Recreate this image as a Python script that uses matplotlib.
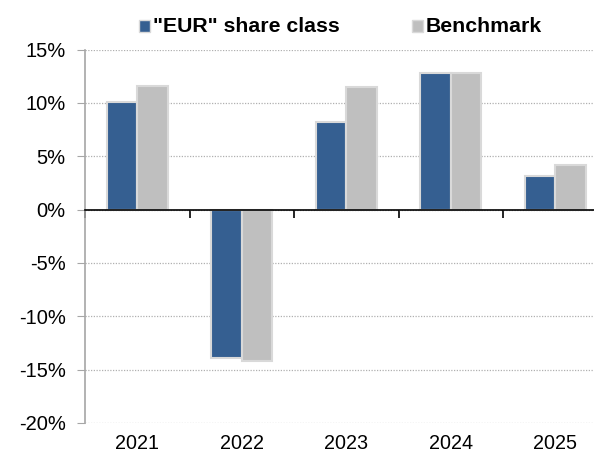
import matplotlib
matplotlib.use("Agg")
import matplotlib.pyplot as plt
import numpy as np
from matplotlib.patches import Rectangle
from matplotlib.ticker import FuncFormatter, FixedLocator

years = ["2021", "2022", "2023", "2024", "2025"]
eur_share = [10.1, -13.9, 8.2, 12.8, 3.1]
benchmark = [11.6, -14.2, 11.5, 12.8, 4.2]
series_names = ['"EUR" share class', 'Benchmark']
y_ticks = [-20, -15, -10, -5, 0, 5, 10, 15]

plt.rcParams['font.family'] = ['Liberation Sans', 'DejaVu Sans']

W, H = 594, 455
fig = plt.figure(figsize=(W / 100, H / 100), dpi=100)
ax = fig.add_axes([85 / W, 1 - 423 / H, (607.5 - 85) / W, (423 - 49.5) / H])

x = np.arange(len(years))
bw = 0.29
c_eur = '#355f91'
c_bm = '#bfbfbf'
edge = '#d9d9d9'
ax.bar(x - bw / 2, eur_share, bw, color=c_eur, edgecolor=edge, linewidth=1.5, zorder=3)
ax.bar(x + bw / 2, benchmark, bw, color=c_bm, edgecolor=edge, linewidth=1.5, zorder=3)

ax.set_xlim(-0.5, len(years) - 0.5)
ax.set_ylim(-20, 15)
ax.set_yticks(y_ticks)
ax.yaxis.set_major_formatter(FuncFormatter(lambda v, p: f"{v:.0f}%"))
ax.yaxis.grid(True, color='#b0b0b0', linestyle=(0, (1, 1.2)), linewidth=0.9, zorder=0)
ax.tick_params(axis='y', direction='out', length=5.8, color='#a6a6a6', labelsize=14.5, pad=8)

for s in ['top', 'right']:
    ax.spines[s].set_visible(False)
ax.spines['left'].set_color('#a6a6a6')
ax.spines['left'].set_linewidth(1.2)
ax.spines['bottom'].set_position(('data', 0))
ax.spines['bottom'].set_color('black')
ax.spines['bottom'].set_linewidth(1.2)
ax.spines['bottom'].set_zorder(4)

ax.set_xticks(x)
ax.tick_params(axis='x', which='major', length=0, labelbottom=False)
ax.xaxis.set_minor_locator(FixedLocator(np.arange(len(years) + 1) - 0.5))
ax.tick_params(axis='x', which='minor', direction='out', length=6, color='black', width=1.2)

sec = ax.secondary_xaxis('bottom')
sec.set_xticks(x)
sec.set_xticklabels(years)
sec.tick_params(axis='x', length=0, labelsize=14.2, pad=8)
sec.spines['bottom'].set_visible(False)

# legend
def px(xp, yp):
    return xp / W, 1 - yp / H

for name, col, x0 in [(series_names[0], c_eur, 139), (series_names[1], c_bm, 412)]:
    fx, fy = px(x0, 31.5)
    fig.patches.append(Rectangle((fx, fy), 11 / W, 11 / H, transform=fig.transFigure,
                                 facecolor=col, edgecolor=edge, linewidth=1))
    tx, ty = px(x0 + 14, 26)
    fig.text(tx, ty, name, fontsize=15.3, fontweight='bold', va='center', ha='left')

fig.savefig('out.png', dpi=100)
